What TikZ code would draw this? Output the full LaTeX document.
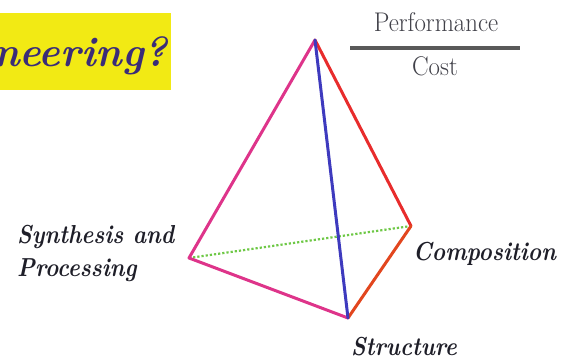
\documentclass[tikz,border=0pt]{standalone}
\definecolor{edgepink}{RGB}{222,52,138}
\definecolor{edgered}{RGB}{232,44,44}
\definecolor{edgeblue}{RGB}{62,58,190}
\definecolor{edgeorange}{RGB}{226,70,30}
\definecolor{edgegreen}{RGB}{110,200,70}
\definecolor{boxyellow}{RGB}{242,234,20}
\definecolor{titleink}{RGB}{58,44,120}
\definecolor{labelink}{RGB}{30,30,40}
\newcommand\narrowtext[2][0.87]{\scalebox{#1}[1]{#2}}
\begin{document}
\begin{tikzpicture}[x=1pt,y=1pt,yscale=-1,xscale=1,
  edge/.style={line width=3pt,line cap=round,line join=round},
  vertexlabel/.style={inner sep=0pt,text=labelink,font=\fontsize{26}{33}\selectfont\bfseries\itshape}]
  \useasboundingbox (0,0) rectangle (577,361);

  %Shape: Rectangle [id:title box]
  \begin{scope}
    \clip (0,13) rectangle (171,90);
    \fill [boxyellow] (0,13) rectangle (171,90);
    % Text Node
    \node (title) [anchor=base east,inner sep=0pt,text=titleink,font=\fontsize{42}{44}\selectfont\bfseries\itshape] at (168,66) {\narrowtext[0.97]{neering?}};
  \end{scope}

  %Corners of the tetrahedron
  \coordinate (top) at (315,40);
  \coordinate (synth) at (189,258);
  \coordinate (comp) at (411,226);
  \coordinate (struct) at (348,318);

  %Straight Lines [id:hidden edge]
  \draw [edgegreen,line width=2.2pt,dotted] (synth) -- (comp);
  %Straight Lines [id:front edges]
  \draw [edge,edgepink] (top) -- (synth) -- (struct);
  \draw [edge,edgered] (top) -- (comp);
  \draw [edge,edgeorange] (comp) -- (struct);
  \draw [edge,edgeblue] (top) -- (struct);

  % Text Node
  \node (perf) [anchor=base,inner sep=0pt,text=labelink!85,font=\fontsize{27}{30}\selectfont] at (436,32) {\narrowtext[0.92]{Performance}};
  % Text Node
  \node (cost) [anchor=base,inner sep=0pt,text=labelink!85,font=\fontsize{27}{30}\selectfont] at (435,75) {\narrowtext[0.92]{Cost}};
  %Straight Lines [id:fraction bar]
  \coordinate (barleft) at (350,48);
  \coordinate (barright) at (520,48);
  \draw [line width=3pt,black!65] (barleft) -- (barright);

  % Text Node
  \node (synthlabel) [vertexlabel,anchor=north west,align=left] at (17,225) {\narrowtext{Synthesis and}\\\narrowtext{Processing}};
  % Text Node
  \node (complabel) [vertexlabel,anchor=base west] at (413,260) {\narrowtext{Composition}};
  % Text Node
  \node (structlabel) [vertexlabel,anchor=base west] at (351,355) {\narrowtext{Structure}};
\end{tikzpicture}
\end{document}
